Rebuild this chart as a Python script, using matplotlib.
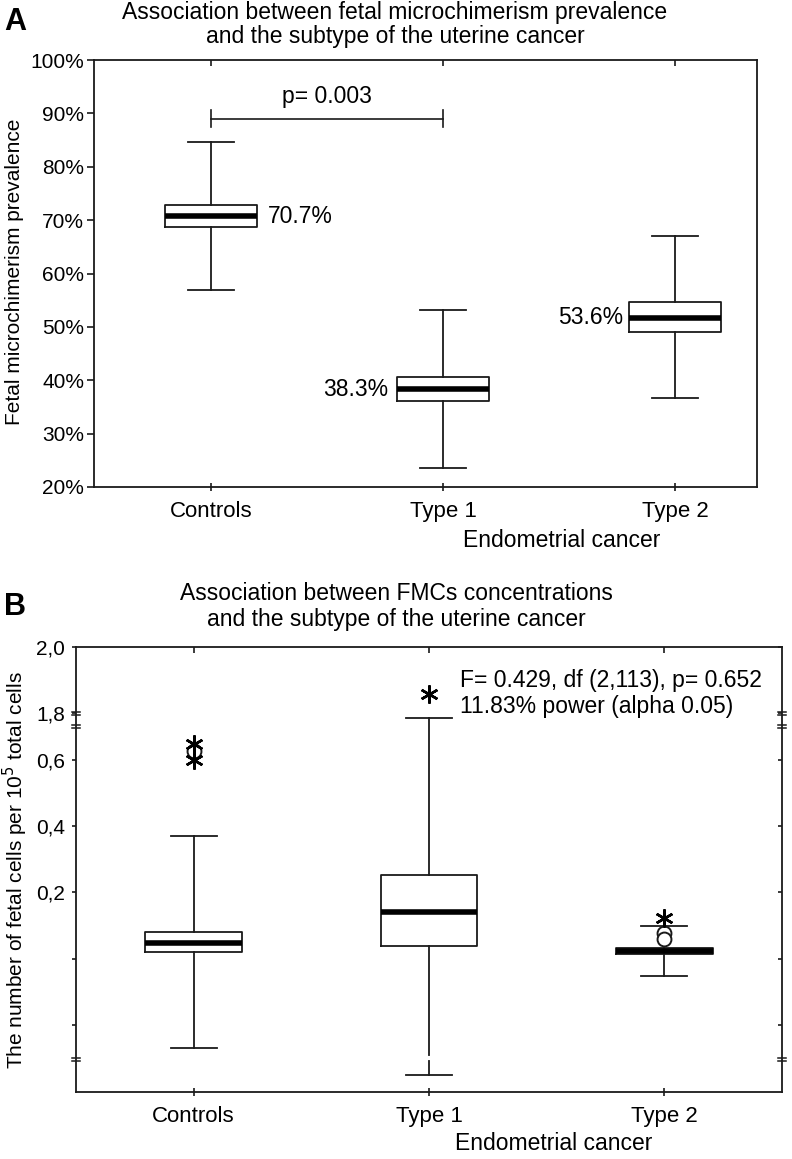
import numpy as np
import matplotlib
matplotlib.use("Agg")
import matplotlib.pyplot as plt
from matplotlib.ticker import NullLocator, FixedLocator
from matplotlib import lines as mlines

plt.rcParams['font.family'] = ['Liberation Sans', 'DejaVu Sans']

# ---------------- data ----------------
categories = ["Controls", "Type 1", "Type 2"]

# Panel A: fetal microchimerism prevalence (%)
a_whislo = [57.0, 23.6, 36.6]
a_q1 = [68.7, 36.2, 49.0]
a_med = [70.7, 38.3, 51.7]
a_q3 = [72.9, 40.6, 54.7]
a_whishi = [84.6, 53.1, 67.1]
a_labels = ["70.7%", "38.3%", "53.6%"]
a_pvalue_text = "p= 0.003"
a_pvalue_level = 88.9

# Panel B: FMC concentrations (cells per 10^5)
b_whislo = [0.0393, 0.0296, 0.0837]
b_q1 = [0.1076, 0.1146, 0.1054]
b_med = [0.1184, 0.1638, 0.1087]
b_q3 = [0.1329, 0.2515, 0.1122]
b_whishi = [0.370, 1.41, 0.1414]
b_extreme = [[0.65, 0.60], [1.858], [0.1538]]   # asterisks
b_outlier = [[0.627], [], [0.1315, 0.1234]]      # circles
b_yticks = [2.0, 1.8, 0.6, 0.4, 0.2, 0.1, 0.05]
b_yticklabels = ["2,0", "1,8", "0,6", "0,4", "0,2", "", ""]
b_stats_text = "F= 0.429, df (2,113), p= 0.652\n11.83% power (alpha 0.05)"

W, H = 792, 1159
fig = plt.figure(figsize=(W / 100, H / 100), dpi=100)
LC = '#1a1a1a'


def fy(px):
    return 1 - px / H


def fx(px):
    return px / W


def top_ticks_inward(ax):
    for t in ax.xaxis.get_major_ticks():
        t.tick2line.set_marker(mlines.TICKDOWN)
        t.tick2line.set_markersize(4)


# ---------------- Panel A ----------------
axA = fig.add_axes([fx(94), fy(487), (757 - 94) / W, (487 - 60) / H])
statsA = [dict(med=m, q1=q1, q3=q3, whislo=lo, whishi=hi, fliers=[])
          for m, q1, q3, lo, hi in zip(a_med, a_q1, a_q3, a_whislo, a_whishi)]
pos = [1, 2, 3]
axA.bxp(statsA, positions=pos, widths=0.40, capwidths=0.2, showfliers=False,
        boxprops=dict(color=LC, lw=1.3),
        whiskerprops=dict(color=LC, lw=1.3),
        capprops=dict(color=LC, lw=1.3),
        medianprops=dict(color='black', lw=4, solid_capstyle='butt'))
axA.set_xlim(1 - 117 / 232, 3 + 82 / 232)
axA.set_ylim(20, 100)
axA.set_yticks(np.arange(20, 101, 10))
axA.set_yticklabels([f"{v}%" for v in range(20, 101, 10)])
axA.set_xticks(pos)
axA.set_xticklabels(categories)
axA.tick_params(axis='y', direction='out', length=5, width=1.2, pad=2,
                labelsize=15, colors=LC, labelcolor='black')
axA.tick_params(axis='x', direction='inout', length=6, width=1.2, pad=7,
                labelsize=16, top=True, colors=LC, labelcolor='black')
top_ticks_inward(axA)
for s in axA.spines.values():
    s.set_linewidth(1.3)
    s.set_color(LC)

# median labels
axA.text(1 + 0.245, a_med[0], a_labels[0], ha='left', va='center', fontsize=16.5)
axA.text(2 - 0.235, a_med[1], a_labels[1], ha='right', va='center', fontsize=16.5)
axA.text(3 - 0.225, a_med[2], a_labels[2], ha='right', va='center', fontsize=16.5)

# p-value bracket
axA.plot([1, 2], [a_pvalue_level, a_pvalue_level], color=LC, lw=1.2)
for xp in [1, 2]:
    axA.plot([xp, xp], [a_pvalue_level - 1.5, a_pvalue_level + 1.7], color=LC, lw=1.2)
axA.text(1.5, a_pvalue_level + 2.2, a_pvalue_text, ha='center', va='bottom', fontsize=16.5)

fig.text(fx(562), fy(540), "Endometrial cancer", ha='center', va='center', fontsize=16.5)
fig.text(fx(15), fy(272), "Fetal microchimerism prevalence", rotation=90,
         ha='center', va='center', fontsize=15)
fig.text(fx(395), fy(12), "Association between fetal microchimerism prevalence",
         ha='center', va='center', fontsize=16.5)
fig.text(fx(395), fy(37), "and the subtype of the uterine cancer",
         ha='center', va='center', fontsize=16.5)
fig.text(fx(4), fy(22), "A", ha='left', va='center', fontsize=22, fontweight='bold')


# ---------------- Panel B ----------------
def fwd(y):
    y = np.asarray(y, dtype=float)
    low = 0.2 + 0.2 * np.log2(np.clip(y, 1e-6, None) / 0.2)
    mid = 0.70 + (y - 0.70) * (0.042 / 1.1)
    top = 0.742 + (y - 1.8)
    return np.where(y < 0.2, low, np.where(y < 0.70, y, np.where(y < 1.8, mid, top)))


def inv(d):
    d = np.asarray(d, dtype=float)
    low = 0.2 * np.power(2.0, (d - 0.2) / 0.2)
    mid = 0.70 + (d - 0.70) * (1.1 / 0.042)
    top = d - 0.742 + 1.8
    return np.where(d < 0.2, low, np.where(d < 0.70, d, np.where(d < 0.742, mid, top)))


axB = fig.add_axes([fx(76), fy(1092), 706 / W, 445 / H])
axB.set_yscale('function', functions=(fwd, inv))
statsB = [dict(med=m, q1=q1, q3=q3, whislo=lo, whishi=hi, fliers=[])
          for m, q1, q3, lo, hi in zip(b_med, b_q1, b_q3, b_whislo, b_whishi)]
axB.bxp(statsB, positions=pos, widths=0.41, capwidths=0.196, showfliers=False,
        boxprops=dict(color=LC, lw=1.3),
        whiskerprops=dict(color=LC, lw=1.3),
        capprops=dict(color=LC, lw=1.3),
        medianprops=dict(color='black', lw=4, solid_capstyle='butt'))
for p, ext, out in zip(pos, b_extreme, b_outlier):
    if out:
        axB.plot([p] * len(out), out, linestyle='none', marker='o', ms=10,
                 mfc='white', mec=LC, mew=1.4, zorder=4)
    if ext:
        axB.plot([p] * len(ext), ext, linestyle='none', marker=(6, 2, 0), ms=13,
                 mec='black', mew=1.8, zorder=5)

axB.set_xlim(0.5, 3.5)
axB.set_ylim(float(inv(-0.403)), 2.0)
axB.yaxis.set_major_locator(FixedLocator(b_yticks))
axB.yaxis.set_minor_locator(NullLocator())
axB.set_yticklabels(b_yticklabels)
axB.set_xticks(pos)
axB.set_xticklabels(categories)
axB.tick_params(axis='y', direction='out', length=3, width=1.2, pad=5,
                labelsize=15, colors=LC, labelcolor='black')
axB.tick_params(axis='y', which='major', right=True)
axB.tick_params(axis='x', direction='inout', length=6, width=1.2, pad=7,
                labelsize=16, top=True, colors=LC, labelcolor='black')
top_ticks_inward(axB)
for t in axB.yaxis.get_major_ticks():
    t.tick2line.set_marker(mlines.TICKLEFT)
for s in axB.spines.values():
    s.set_linewidth(1.3)
    s.set_color(LC)

# axis break marks
trans = axB.get_yaxis_transform()
for d in [0.742, 0.703, -0.306]:
    for xa in [0.0, 1.0]:
        for dd in [-0.0045, 0.0045]:
            yv = float(inv(d + dd))
            axB.plot([xa - 0.006, xa + 0.006], [yv, yv], transform=trans,
                     color=LC, lw=1.1, clip_on=False, zorder=6)
# gap in Type 1 whisker at the lower break
axB.plot([2 - 0.01, 2 + 0.01], [float(inv(-0.300))] * 2, color='white', lw=3,
         solid_capstyle='butt', zorder=6)

axB.text(2.132, float(inv(0.876)), b_stats_text, ha='left', va='top',
         fontsize=16.5, linespacing=1.2)

fig.text(fx(554), fy(1143), "Endometrial cancer", ha='center', va='center', fontsize=16.5)
fig.text(fx(15), fy(870), "The number of fetal cells per 10$^{5}$ total cells", rotation=90,
         ha='center', va='center', fontsize=15)
fig.text(fx(396), fy(593), "Association between FMCs concentrations",
         ha='center', va='center', fontsize=16.5)
fig.text(fx(396), fy(619), "and the subtype of the uterine cancer",
         ha='center', va='center', fontsize=16.5)
fig.text(fx(4), fy(607), "B", ha='left', va='center', fontsize=22, fontweight='bold')

fig.savefig("out.png", dpi=100)
